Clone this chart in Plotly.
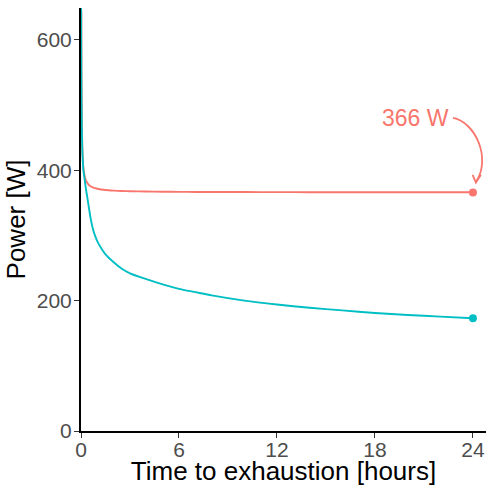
import plotly.graph_objects as go

# Time to exhaustion [hours]
time_h = [0.02, 0.03, 0.05, 0.075, 0.1, 0.15, 0.2, 0.3, 0.4, 0.5, 0.75, 1, 1.5, 2, 2.5, 3, 4, 5, 6,
          7, 8, 10, 12, 14, 16, 18, 20, 22, 24]
# Critical power model (red)
power_cp = [644, 551, 477, 440, 422, 403, 394, 384.5, 380, 377, 373.4, 371.6, 369.7, 368.8, 368.2,
            367.9, 367.4, 367.1, 366.9, 366.8, 366.7, 366.6, 366.5, 366.4, 366.3, 366.3, 366.3, 366.2, 366.2]
# Power-law model (teal)
time_h2 = [0.008, 0.012, 0.02, 0.03, 0.05, 0.075, 0.1, 0.15, 0.2, 0.3, 0.4, 0.5, 0.6, 0.75, 0.9, 1, 1.25, 1.5,
           2, 2.5, 3, 4, 5, 6, 7, 8, 10, 12, 14, 16, 18, 20, 22, 24]
power_pl = [650, 600, 548, 510, 465, 438, 420, 400, 390, 372, 356, 340, 325, 308, 297, 291, 280, 271,
            259, 249, 242, 233, 225, 218, 213, 208, 200, 194, 189, 185, 181, 178, 175.5, 173]

end_time = [24]
end_cp = [366]
end_pl = [173]

x_ticks = [0, 6, 12, 18, 24]
y_ticks = [0, 200, 400, 600]
annot_text = "366 W"

RED = "#F8766D"
TEAL = "#00BFC4"
FONT = "Liberation Sans"

fig = go.Figure()
fig.add_trace(go.Scatter(x=time_h, y=power_cp, mode="lines",
                         line=dict(color=RED, width=1.9, shape="spline", smoothing=0.6),
                         showlegend=False, hoverinfo="skip"))
fig.add_trace(go.Scatter(x=time_h2, y=power_pl, mode="lines",
                         line=dict(color=TEAL, width=1.9, shape="spline", smoothing=0.6),
                         showlegend=False, hoverinfo="skip"))
fig.add_trace(go.Scatter(x=end_time, y=end_cp, mode="markers", marker=dict(color=RED, size=8),
                         showlegend=False, cliponaxis=False))
fig.add_trace(go.Scatter(x=end_time, y=end_pl, mode="markers", marker=dict(color=TEAL, size=8),
                         showlegend=False, cliponaxis=False))

# Annotation text
fig.add_annotation(x=22.65, y=480, xref="x", yref="y", text=annot_text, showarrow=False,
                   xanchor="right", yanchor="middle", font=dict(family=FONT, size=23, color=RED))
# curved arrow
fig.add_shape(type="path", xref="x", yref="y",
              path="M 22.78,480.3 C 24.12,474.2 25.16,418.9 24.18,382",
              line=dict(color=RED, width=1.8))
fig.add_shape(type="path", xref="x", yref="y",
              path="M 23.98,393 L 24.18,381 L 24.49,393",
              line=dict(color=RED, width=1.8))

tick_font = dict(family=FONT, size=21, color="#4D4D4D")
title_font = dict(family=FONT, size=26, color="black")

fig.update_layout(
    width=487, height=486,
    margin=dict(l=81, r=1, t=8, b=55, autoexpand=False),
    plot_bgcolor="white", paper_bgcolor="white",
    font=dict(family=FONT, size=21, color="#4D4D4D"),
)
fig.update_xaxes(range=[0, 24.8], tickmode="array", tickvals=x_ticks, tickfont=tick_font,
                 showline=True, linecolor="black", linewidth=2, ticks="outside", ticklen=5,
                 tickwidth=1.2, tickcolor="#333333", showgrid=False, zeroline=False, automargin=False,
                 ticklabelstandoff=-6,
                 title=dict(text="Time to exhaustion [hours]", standoff=0, font=title_font))
fig.update_yaxes(range=[0, 649], tickmode="array", tickvals=y_ticks, tickfont=tick_font,
                 showline=True, linecolor="black", linewidth=2, ticks="outside", ticklen=5,
                 tickwidth=1.2, tickcolor="#333333", showgrid=False, zeroline=False, automargin=False,
                 ticklabelstandoff=-2,
                 title=dict(text="Power [W]", standoff=4, font=title_font))

fig.write_html("out.html", config={"displayModeBar": False},
               post_script="document.body.style.margin='0';")
